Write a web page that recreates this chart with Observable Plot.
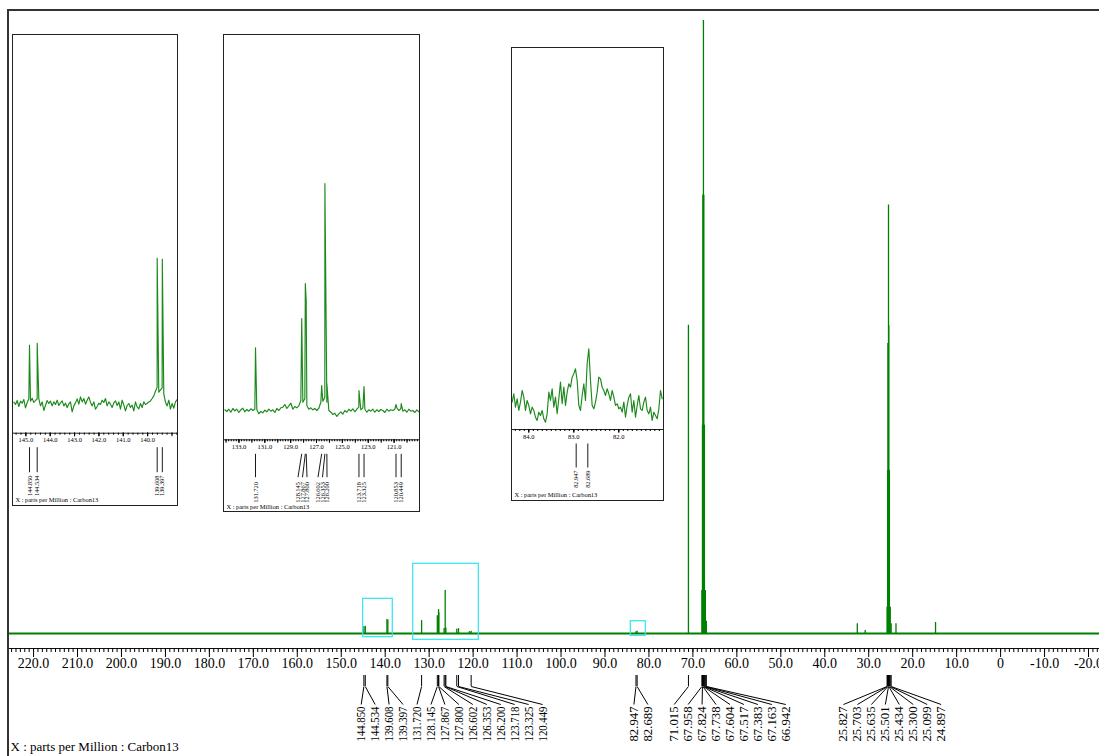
<!DOCTYPE html>
<html>
<head>
<meta charset="utf-8">
<script src="https://cdn.jsdelivr.net/npm/d3@7"></script>
<script src="https://cdn.jsdelivr.net/npm/@observablehq/plot@0.6"></script>
<style>
  body { margin: 0; background: #fff; }
  #wrap { position: relative; width: 1099px; height: 756px; overflow: hidden; background: #fff; }
  #wrap > svg { position: absolute; left: 0; top: 0; }
  .outer { position: absolute; left: 7px; top: 9px; width: 1100px; height: 760px; border-top: 2px solid #333; border-left: 2px solid #333; pointer-events: none; }
  .inset { position: absolute; box-sizing: border-box; border: 1px solid #222; background: #fff; }
  .inset svg { display: block; }
</style>
</head>
<body>
<div id="wrap"><div class="outer"></div></div>
<script>
// ---------------- DATA ----------------
const caption = "X : parts per Million : Carbon13";

// main spectrum: peak positions (ppm) and heights (% of tallest line)
const mainPpm = [144.850,144.534,139.608,139.397,131.720,128.145,127.867,127.800,126.602,126.353,126.200,123.718,123.325,120.853,120.449,
  82.947,82.689,71.015,67.958,67.824,67.738,67.604,67.517,67.383,67.163,66.942,32.6,30.8,
  25.827,25.703,25.635,25.501,25.434,25.300,25.099,24.897,23.8,14.8];
const mainHeight = [1.1,1.2,2.3,2.2,2.1,2.9,3.9,3.4,0.8,7.0,0.9,0.7,0.8,0.3,0.35,
  0.3,0.35,50.3,7,34,71.5,100,71.5,34,7,2,1.6,0.5,
  4.3,26.6,47.3,69.9,50.2,26.6,4.3,1.6,1.6,1.8];

// labelled peaks on the main axis, in four label groups
const mainLabelPpm = [144.850,144.534,139.608,139.397,131.720,128.145,127.867,127.800,126.602,126.353,126.200,123.718,123.325,120.449,
  82.947,82.689,
  71.015,67.958,67.824,67.738,67.604,67.517,67.383,67.163,66.942,
  25.827,25.703,25.635,25.501,25.434,25.300,25.099,24.897];
const mainLabelGroupSize = [14, 2, 9, 8];
const mainLabelGroupStart = [145.46, 83.42, 74.26, 35.74];
const mainLabelStep = -3.174;

// expansion boxes on the main spectrum (ppm range, intensity range)
const boxX1 = [145.01, 133.63, 84.13];
const boxX2 = [138.28, 118.71, 80.72];
const boxY1 = [-0.6, -1.03, -0.38];
const boxY2 = [5.66, 11.37, 2.0];

// inset 1 (145.5 - 138.8 ppm)
const inset1Start = 145.493, inset1Step = -0.0684;
const inset1Noise = [0,-2.3,1.7,-4.3,1,-1,2.7,-5.7,-0.3,3.3, 1,4,-0.3,1.7,3.3,3.3,-3.7,0.3,-8.3,-3,
  1.7,-1.3,1,-3.7,0.3,-2.3,2,-3.3,-0.7,1.3, -3.7,-1,-5.3,-1.7,0.3,-9.7,-3.7,-0.7,3.3,-2,
  5.3,0.3,3.7,-2,2,5.3,0,-3.7,0.3,-7, -4.3,-1,-2.3,2,-0.3,3.7,-3.7,0.3,-2,-5.3,
  -0.7,1.3,-3.3,0.3,-7,2,-2.7,-8.7,-3.3,-1.3, -5.3,-3,-8.7,0.3,-4.7,-6.7,-1.3,-5.3,0.3,-2.3,
  -1.3,0.3,1.3,3.7,6.3,11,15,10,12.3,14.3, 8.3,0,-3.7,2,-7,-1.3,-6,0.3,2.7];
const inset1PeakPpm = [144.850,144.534,139.608,139.397];
const inset1PeakH = [57,59,144,143];

// inset 2 (134.1 - 119.0 ppm)
const inset2Start = 134.092, inset2Step = -0.1547;
const inset2Noise = [0.7,-1,1.3,-1.7,2,-0.3,1.3,-2,0.7,2.3, -1.3,1,-0.7,1.7,0,1.3,0.7,-3.3,-1,-2.3,
  0.3,-1.3,1.3,-0.7,0.7,-2,2,0,2.7,3.3, 6,2,4.7,7.3,1.3,4,2.7,4.7,10,8.3,
  11.7,5,1.3,2.7,0.7,2,0,2.3,8.3,9.3, 13.3,8.3,0,-1.7,-4,-2.7,-6,-3.3,-1.3,-3.7,
  0,-1.7,1.3,-0.7,1.7,-1.3,1.3,3.3,0.7,2.7, 1.3,-1.7,0.7,-0.7,1.3,-1.7,0.7,-1,1,0,
  -2,1.3,-0.7,0.7,0,1.3,2.7,0,1.7,-0.7, 0.7,-1.7,1.3,-0.7,0,-2,0.7,-1.3];
const inset2PeakPpm = [131.720,128.145,127.867,127.800,126.602,126.353,126.200,123.718,123.325,120.853,120.449];
const inset2PeakH = [62.7,92,127,110,25,227,27,20,24,6,7];
const inset2LabelPos = [131.72,128.433,128.085,127.737,126.886,126.538,126.19,123.718,123.325,120.853,120.449];

// inset 3 (84.4 - 81.0 ppm)
const inset3Start = 84.370, inset3Step = -0.03704;
const inset3Trace = [65,90,50,75,40,65,100,80,40,70, 55,30,50,40,20,10,35,25,40,15,
  5,30,95,70,105,50,80,30,75,125, 60,110,55,95,120,110,140,150,165,130,
  55,40,85,120,70,180,225,130,55,45, 65,95,140,135,110,100,85,105,90,70,
  100,80,55,60,45,50,35,65,20,55, 80,90,35,70,20,55,85,45,40,65,
  80,40,30,50,10,35,25,15,45,100, 75];
const inset3LabelPpm = [82.947, 82.689];

// ---------------- BUILD ----------------
const SERIF = "'Liberation Serif','Times New Roman',Times,serif";
const GREEN = "#008000";
const IGREEN = "#1b8a1b";
const wrap = document.getElementById("wrap");

const rangeTicks = (a, b, step) => {
  const n = Math.round((b - a) / step);
  return d3.range(n + 1).map(i => +(a + i * step).toFixed(3));
};

// main
const pxMain = px => (633 - px) / 6.13;
const peaks = mainPpm.map((ppm, i) => ({ppm, h: mainHeight[i]}));
const labels = [];
{
  let k = 0;
  mainLabelGroupSize.forEach((n, g) => {
    for (let j = 0; j < n; j++) {
      labels.push({ppm: mainLabelPpm[k], lx: mainLabelGroupStart[g] + j * mainLabelStep});
      k++;
    }
  });
}
const boxes = boxX1.map((x1, i) => ({x1, x2: boxX2[i], y1: boxY1[i], y2: boxY2[i]}));
const fmtMain = d => d === 0 ? "0" : d.toFixed(1);

const main = Plot.plot({
  width: 1099, height: 756,
  marginLeft: 8, marginRight: 0, marginTop: 10, marginBottom: 108,
  style: {fontFamily: SERIF, fontSize: "14px", background: "transparent", overflow: "visible", color: "#000"},
  x: {domain: [225.7, -22.5], label: null},
  y: {domain: [0, 100], range: [633, 20], axis: null},
  marks: [
    Plot.frame({anchor: "bottom", stroke: "#111", strokeWidth: 1.2}),
    Plot.axisX({ticks: rangeTicks(-22, 225, 1), tickSize: 4, tickFormat: () => "", label: null}),
    Plot.axisX({ticks: rangeTicks(-20, 220, 10), tickSize: 9, tickPadding: 1, tickFormat: fmtMain, label: null}),
    Plot.ruleY([0], {stroke: GREEN, strokeWidth: 2.2}),
    Plot.ruleX(peaks, {x: "ppm", y1: 0, y2: "h", stroke: GREEN, strokeWidth: 1.3}),
    Plot.rect(boxes, {x1: "x1", x2: "x2", y1: "y1", y2: "y2", fill: "none", stroke: "#2ee4f0", strokeWidth: 1.2}),
    Plot.ruleX(labels, {x: "ppm", y1: pxMain(675), y2: pxMain(686), stroke: "#000", strokeWidth: 1}),
    Plot.link(labels, {x1: "ppm", y1: pxMain(686), x2: "lx", y2: pxMain(704), stroke: "#000", strokeWidth: 1}),
    Plot.text(labels, {x: "lx", y: pxMain(706), text: d => d.ppm.toFixed(3), rotate: -90, textAnchor: "end", lineAnchor: "middle", fontSize: 12.5, fill: "#000"}),
    Plot.text([caption], {text: d => d, frameAnchor: "bottom-left", dx: 2, dy: 98.8, textAnchor: "start", lineAnchor: "middle", fontSize: 13, fill: "#000"})
  ]
});
wrap.insertBefore(main, wrap.firstChild);
// condensed peak labels (as in the reference)
d3.select(main).selectAll("text").filter(function () {
  return /^-?\d+\.\d{3}$/.test(this.textContent);
}).attr("textLength", 35).attr("lengthAdjust", "spacingAndGlyphs");

function makeTrace(start, step, values, peakPpm, peakH) {
  const pts = values.map((v, i) => ({ppm: start + i * step, v}));
  (peakPpm || []).forEach((p, i) => pts.push({ppm: p, v: peakH[i]}));
  pts.sort((a, b) => b.ppm - a.ppm);
  return pts;
}

function inset(o) {
  const div = document.createElement("div");
  div.className = "inset";
  div.style.left = o.left + "px";
  div.style.top = o.top + "px";
  div.style.width = (o.w + 2) + "px";
  div.style.height = (o.h + 2) + "px";
  const [d0, d1] = o.domain;
  const inside = t => t <= d0 && t >= d1;
  const p = Plot.plot({
    width: o.w, height: o.h,
    marginLeft: 0, marginRight: 0, marginTop: 0, marginBottom: o.mb,
    style: {fontFamily: SERIF, fontSize: "6.5px", background: "transparent", overflow: "visible", color: "#000"},
    x: {domain: o.domain, label: null},
    y: {domain: o.yDomain, range: o.yRange, axis: null},
    marks: [
      Plot.frame({anchor: "bottom", stroke: "#222"}),
      Plot.axisX({ticks: o.minor.filter(inside), tickSize: 2, tickFormat: () => "", label: null}),
      Plot.axisX({ticks: o.major.filter(inside), tickSize: 3.5, tickFormat: () => "", label: null}),
      Plot.axisX({ticks: o.lab.filter(inside), tickSize: 3.5, tickPadding: 1, tickFormat: d => d.toFixed(1), label: null}),
      Plot.line(o.trace, {x: "ppm", y: "v", stroke: IGREEN, strokeWidth: 1.15, clip: true}),
      Plot.link(o.labels, {x1: "ppm", y1: o.lTop, x2: "lx", y2: o.lBot, stroke: "#000", strokeWidth: 0.9}),
      Plot.text(o.labels, {x: "lx", y: o.lText, text: d => d.ppm.toFixed(3), rotate: -90, textAnchor: "end", lineAnchor: "middle", fontSize: 6.3, fill: "#000"}),
      Plot.text([caption], {text: d => d, frameAnchor: "bottom-left", dx: o.capDx, dy: o.capDy, textAnchor: "start", lineAnchor: "middle", fontSize: 6.4, fill: "#000"})
    ]
  });
  div.appendChild(p);
  wrap.appendChild(div);
}

// inset 1
inset({
  left: 12, top: 34, w: 164, h: 470, mb: 72.3,
  domain: [145.507, 138.774], yDomain: [0, 100], yRange: [366.7, 266.7],
  trace: makeTrace(inset1Start, inset1Step, inset1Noise, inset1PeakPpm, inset1PeakH),
  minor: rangeTicks(138.8, 145.4, 0.2), major: rangeTicks(139, 145, 1), lab: rangeTicks(140, 145, 1),
  labels: inset1PeakPpm.map(p => ({ppm: p, lx: p})),
  lTop: -45, lBot: -70, lText: -73.3, capDx: 2, capDy: 66.3
});

// inset 2
inset({
  left: 223, top: 34, w: 195, h: 476, mb: 71.7,
  domain: [134.118, 119.036], yDomain: [0, 100], yRange: [375, 275],
  trace: makeTrace(inset2Start, inset2Step, inset2Noise, inset2PeakPpm, inset2PeakH),
  minor: rangeTicks(119.2, 134.0, 0.2), major: rangeTicks(120, 134, 1), lab: rangeTicks(121, 133, 2),
  labels: inset2PeakPpm.map((p, i) => ({ppm: p, lx: inset2LabelPos[i]})),
  lTop: -43.3, lBot: -66.7, lText: -71.7, capDx: 2, capDy: 66.7
});

// inset 3
inset({
  left: 511, top: 47, w: 151, h: 452, mb: 71,
  domain: [84.362, 81.007], yDomain: [0, 300], yRange: [375.3, 275.3],
  trace: makeTrace(inset3Start, inset3Step, inset3Trace),
  minor: rangeTicks(81.1, 84.3, 0.1), major: rangeTicks(82, 84, 1), lab: rangeTicks(82, 84, 1),
  labels: inset3LabelPpm.map(p => ({ppm: p, lx: p})),
  lTop: -59.1, lBot: -131.1, lText: -140.1, capDx: 2, capDy: 65
});
</script>
</body>
</html>
